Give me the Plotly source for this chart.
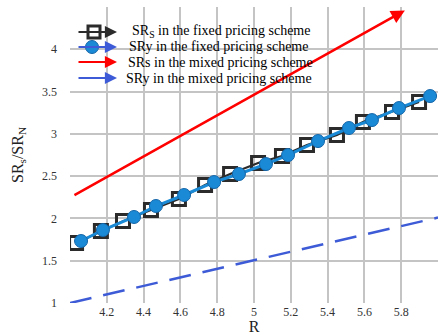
import plotly.graph_objects as go

# SR_S under the fixed pricing scheme
fixed_s_R = [4.033, 4.168, 4.288, 4.440, 4.592, 4.734, 4.870, 5.022, 5.152, 5.288,
             5.451, 5.592, 5.750, 5.897]
fixed_s_SR = [1.709, 1.851, 1.969, 2.099, 2.229, 2.395, 2.525, 2.655, 2.738, 2.868,
              2.986, 3.140, 3.258, 3.376]

# SR_y under the fixed pricing scheme
fixed_y_R = [4.060, 4.179, 4.348, 4.467, 4.620, 4.783, 4.918, 5.065, 5.185, 5.348,
             5.516, 5.641, 5.788, 5.957]
fixed_y_SR = [1.733, 1.863, 2.017, 2.147, 2.277, 2.430, 2.525, 2.643, 2.749, 2.915,
              3.069, 3.163, 3.305, 3.447]

# SR_s and SR_y under the mixed pricing scheme (straight lines: start, end)
mixed_s_R = [4.016, 5.82]
mixed_s_SR = [2.265, 4.46]
mixed_y_R = [4.0, 6.0]
mixed_y_SR = [1.0, 2.01]

x_ticks = [4.2, 4.4, 4.6, 4.8, 5.0, 5.2, 5.4, 5.6, 5.8]
x_tick_text = ["4.2", "4.4", "4.6", "4.8", "5", "5.2", "5.4", "5.6", "5.8"]
y_ticks = [1, 1.5, 2, 2.5, 3, 3.5, 4]
y_tick_text = ["1", "1.5", "2", "2.5", "3", "3.5", "4"]

legend_labels = [
    "SR<sub>S</sub> in the fixed pricing scheme",
    "SRy in the fixed pricing scheme",
    "SRs in the mixed pricing scheme",
    "SRy in the mixed pricing scheme",
]

BLACK = "#2b2b2b"
LIGHT_BLUE = "#1a8ad6"
BLUE = "#3d5bd6"
RED = "#ff0000"
GRID = "#c4c4c4"
FONT = "Liberation Serif"

W, H = 438, 335
L, R_, T, B = 70, 0, 7, 32
PW, PH = W - L - R_, H - T - B

fig = go.Figure()

# mixed scheme SR_y: long-dash blue line
fig.add_trace(go.Scatter(
    x=mixed_y_R, y=mixed_y_SR, mode="lines",
    line=dict(color=BLUE, width=2.5, dash="22px,12px"),
    showlegend=False, hoverinfo="skip"))

# fixed scheme SR_S: black line with open squares
fig.add_trace(go.Scatter(
    x=fixed_s_R, y=fixed_s_SR, mode="lines+markers",
    line=dict(color=BLACK, width=2),
    marker=dict(symbol="square-open", size=13, color=BLACK, line=dict(width=3, color=BLACK)),
    showlegend=False))

# fixed scheme SR_y: light blue line with filled circles
fig.add_trace(go.Scatter(
    x=fixed_y_R, y=fixed_y_SR, mode="lines+markers",
    line=dict(color=LIGHT_BLUE, width=3),
    marker=dict(symbol="circle", size=13, color=LIGHT_BLUE, line=dict(width=1, color="#1565a8")),
    showlegend=False))

annotations = []
# mixed scheme SR_s: red arrow
annotations.append(dict(
    x=mixed_s_R[1], y=mixed_s_SR[1], ax=mixed_s_R[0], ay=mixed_s_SR[0],
    xref="x", yref="y", axref="x", ayref="y", text="", showarrow=True,
    arrowhead=2, arrowsize=1.1, arrowwidth=2.5, arrowcolor=RED,
    standoff=0, startstandoff=0))

# hand-built legend with arrow keys
def px_x(p):
    return (p - L) / PW

def px_y(p):
    return (H - B - p) / PH

rows_y = [32, 47, 62, 78]
text_x = [130, 127, 126, 124]
arrow_colors = [BLACK, BLUE, RED, BLUE]
shapes = []
for yy, tx, col, lab in zip(rows_y, text_x, arrow_colors, legend_labels):
    annotations.append(dict(
        x=px_x(117), y=px_y(yy), xref="paper", yref="paper",
        ax=-40, ay=0, text="", showarrow=True,
        arrowhead=2, arrowsize=1.1, arrowwidth=2.2, arrowcolor=col,
        standoff=0, startstandoff=0))
    annotations.append(dict(
        x=px_x(tx), y=px_y(yy), xref="paper", yref="paper",
        text=lab, showarrow=False, xanchor="left", yanchor="middle",
        font=dict(family=FONT, size=14, color="black")))

# legend marker glyphs
shapes.append(dict(
    type="rect", xref="paper", yref="paper", xsizemode="pixel", ysizemode="pixel",
    xanchor=px_x(94), yanchor=px_y(32), x0=-6, x1=6, y0=-6, y1=6,
    line=dict(color=BLACK, width=3), fillcolor="rgba(0,0,0,0)"))
shapes.append(dict(
    type="circle", xref="paper", yref="paper", xsizemode="pixel", ysizemode="pixel",
    xanchor=px_x(92), yanchor=px_y(47), x0=-6.5, x1=6.5, y0=-6.5, y1=6.5,
    line=dict(color="#1565a8", width=1), fillcolor=LIGHT_BLUE))

fig.update_layout(
    width=W, height=H,
    margin=dict(l=L, r=R_, t=T, b=B, pad=0),
    paper_bgcolor="white", plot_bgcolor="white",
    font=dict(family=FONT, size=12, color="#333333"),
    annotations=annotations, shapes=shapes,
    showlegend=False,
)

fig.update_xaxes(
    range=[4, 6], tickvals=[4.0] + x_ticks + [6.0], ticktext=[""] + x_tick_text + [""],
    showgrid=True, gridcolor=GRID, gridwidth=1.5, zeroline=False,
    showline=False, ticks="", ticklabelstandoff=0, automargin=False,
    tickfont=dict(family=FONT, size=12, color="#333333"),
    title=dict(text="R", font=dict(family=FONT, size=16, color="#222222"), standoff=0),
)
fig.update_yaxes(
    range=[1, 4.5], tickvals=y_ticks + [4.5], ticktext=y_tick_text + [""],
    showgrid=True, gridcolor=GRID, gridwidth=1.5, zeroline=False,
    showline=False, ticks="", ticklabelstandoff=12, automargin=False,
    tickfont=dict(family=FONT, size=12, color="#333333"),
    title=dict(text="SR<sub>s</sub>/SR<sub>N</sub>",
               font=dict(family=FONT, size=16, color="#222222"), standoff=14),
)

fig.write_html("out.html")
